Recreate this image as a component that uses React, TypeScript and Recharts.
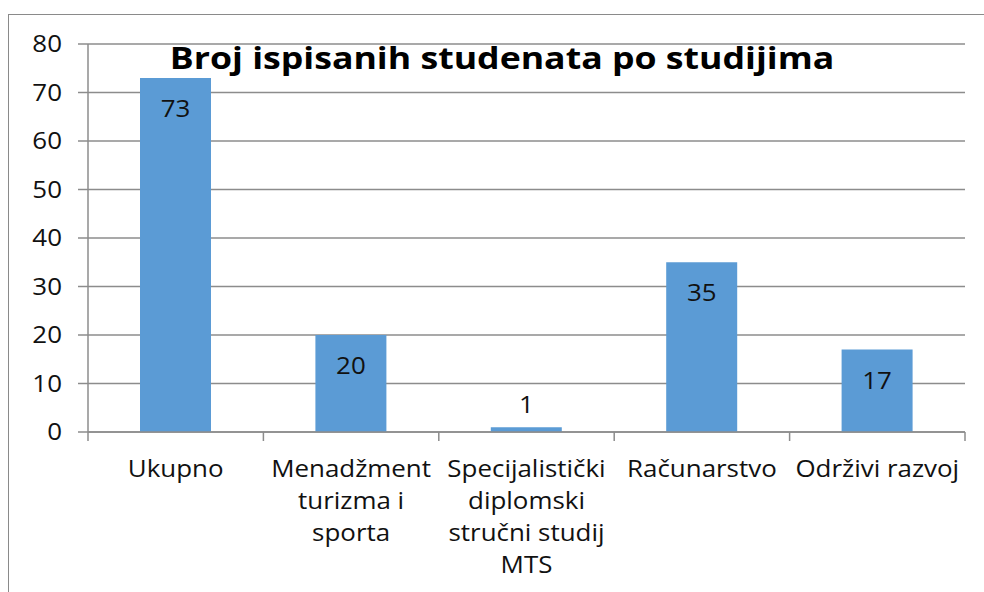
import { BarChart, Bar, XAxis, YAxis, CartesianGrid, LabelList } from 'recharts';

const categories = ['Ukupno', 'Menadžment turizma i sporta', 'Specijalistički diplomski stručni studij MTS', 'Računarstvo', 'Održivi razvoj'];
const tickLines = [
  ['Ukupno'],
  ['Menadžment', 'turizma i', 'sporta'],
  ['Specijalistički', 'diplomski', 'stručni studij', 'MTS'],
  ['Računarstvo'],
  ['Održivi razvoj'],
];
const students = [73, 20, 1, 35, 17];
const yTicks = [0, 10, 20, 30, 40, 50, 60, 70, 80];

const data = categories.map((name, i) => ({ name, value: students[i] }));

const FONT = '"Open Sans", sans-serif';
const GRID = '#8c8c8c';
const TEXT = '#111';
const STRETCH = 1.08; // the original text is a bit wider than Open Sans

// eslint-disable-next-line @typescript-eslint/no-explicit-any
function WideText({ x, y, anchor, children }: any) {
  return (
    <g transform={`translate(${x},${y}) scale(${STRETCH},1)`}>
      <text x={0} y={0} textAnchor={anchor} fontFamily={FONT} fontSize={24} fill={TEXT}>
        {children}
      </text>
    </g>
  );
}

// eslint-disable-next-line @typescript-eslint/no-explicit-any
function CategoryTick({ x, y, payload, index, visibleTicksCount }: any) {
  const half = payload.offset || 0;
  const lines = tickLines[index] || [String(payload.value)];
  return (
    <g>
      <line x1={x - half} y1={y} x2={x - half} y2={y + 9} stroke={GRID} strokeWidth={1.5} />
      {index === visibleTicksCount - 1 && (
        <line x1={x + half} y1={y} x2={x + half} y2={y + 9} stroke={GRID} strokeWidth={1.5} />
      )}
      {lines.map((l: string, i: number) => (
        <WideText key={i} x={x} y={y + 45 + i * 32} anchor="middle">{l}</WideText>
      ))}
    </g>
  );
}

// eslint-disable-next-line @typescript-eslint/no-explicit-any
function ValueTick({ x, y, payload }: any) {
  return (
    <WideText x={x} y={y + 8} anchor="end">{payload.value}</WideText>
  );
}

// eslint-disable-next-line @typescript-eslint/no-explicit-any
function ValueLabel({ x, y, width, height, value }: any) {
  const inside = height > 40;
  return (
    <WideText x={x + width / 2} y={inside ? y + 39 : y - 14} anchor="middle">{value}</WideText>
  );
}

export default function App() {
  return (
    <div style={{ position: 'absolute', left: 0, top: 0, width: 984, height: 592, overflow: 'hidden', background: '#fff' }}>
      <div
        style={{
          position: 'absolute',
          left: 8,
          top: 14,
          width: 1000,
          height: 700,
          border: '1.5px solid #8a8a8a',
        }}
      />
      <BarChart
        width={984}
        height={592}
        data={data}
        margin={{ top: 44, right: 19, left: 0, bottom: 0 }}
        style={{ position: 'absolute', left: 0, top: 0 }}
      >
        <CartesianGrid vertical={false} stroke={GRID} strokeWidth={1.5} />
        <XAxis
          dataKey="name"
          height={160}
          interval={0}
          tickSize={0}
          tickMargin={0}
          tickLine={false}
          axisLine={{ stroke: GRID, strokeWidth: 1.5 }}
          tick={<CategoryTick />}
        />
        <YAxis
          width={88}
          domain={[0, 80]}
          ticks={yTicks}
          interval={0}
          tickSize={10}
          tickMargin={16}
          tickLine={{ stroke: GRID, strokeWidth: 1.5 }}
          axisLine={{ stroke: GRID, strokeWidth: 1.5 }}
          tick={<ValueTick />}
        />
        <Bar dataKey="value" fill="#5b9bd5" barSize={71} isAnimationActive={false}>
          <LabelList dataKey="value" content={<ValueLabel />} />
        </Bar>
      </BarChart>
      <div
        style={{
          position: 'absolute',
          left: 0,
          width: 1004,
          top: 37,
          textAlign: 'center',
          fontFamily: FONT,
          fontWeight: 700,
          fontSize: 31,
          lineHeight: '40px',
          color: '#000',
          whiteSpace: 'nowrap',
          transform: 'scaleX(1.15)',
        }}
      >
        Broj ispisanih studenata po studijima
      </div>
    </div>
  );
}
